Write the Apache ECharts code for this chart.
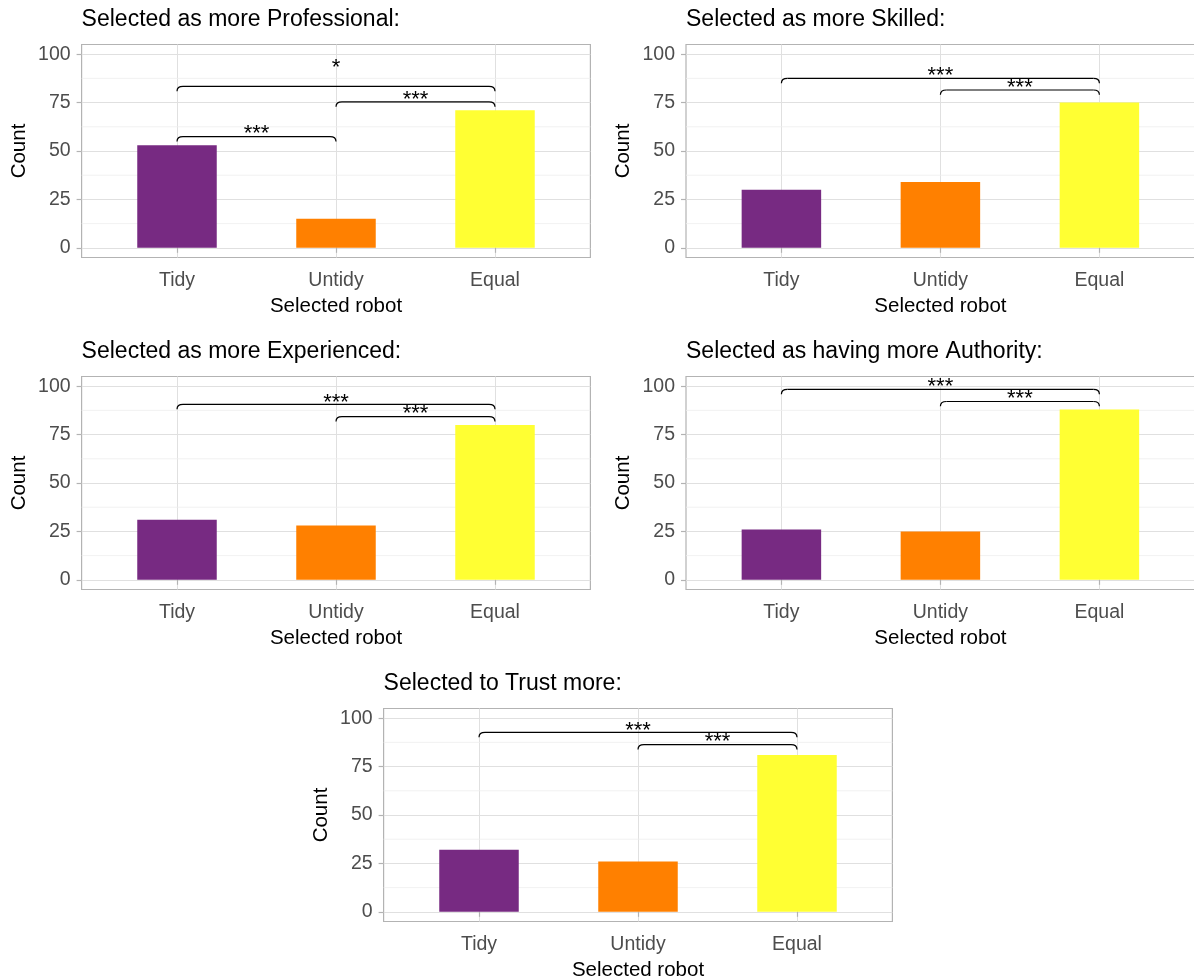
<!DOCTYPE html>
<html><head><meta charset="utf-8">
<script src="https://cdn.jsdelivr.net/npm/echarts@6/dist/echarts.min.js"></script>
<style>html,body{margin:0;padding:0;background:#fff}#chart{width:1194px;height:980px}</style>
</head><body><div id="chart"></div>
<script>
// ---- data ----
const categories = ['Tidy', 'Untidy', 'Equal'];
const panelTitles = [
  'Selected as more Professional:',
  'Selected as more Skilled:',
  'Selected as more Experienced:',
  'Selected as having more Authority:',
  'Selected to Trust more:'
];
const professional = [53, 15, 71];
const skilled = [30, 34, 75];
const experienced = [31, 28, 80];
const authority = [26, 25, 88];
const trust = [32, 26, 81];
const yTickValues = [0, 25, 50, 75, 100];
const yMinorValues = [12.5, 37.5, 62.5, 87.5];
// significance brackets: [fromCategory, toCategory, bracketY, labelY, label]
const professionalSig = [[0, 1, 57.4, 60.7, '***'], [1, 2, 75.4, 78.3, '***'], [0, 2, 83.4, 94.9, '*']];
const skilledSig = [[0, 2, 87.5, 90.6, '***'], [1, 2, 81.5, 84.6, '***']];
const experiencedSig = [[0, 2, 90.6, 93.3, '***'], [1, 2, 84.3, 87.7, '***']];
const authoritySig = [[0, 2, 98.3, 101.5, '***'], [1, 2, 92.1, 95.6, '***']];
const trustSig = [[0, 2, 92.7, 95.7, '***'], [1, 2, 86.3, 89.6, '***']];
const tipLength = 2.5;

// ---- styles / layout ----
const barColors = ['#772a82', '#ff8000', '#ffff33'];
const FONT = 'Liberation Sans, Arial, sans-serif';
const PW = 508.8, PH = 213;
const panels = [
  {title: panelTitles[0], values: professional, sig: professionalSig, left: 81.6, top: 44.5},
  {title: panelTitles[1], values: skilled, sig: skilledSig, left: 686, top: 44.5},
  {title: panelTitles[2], values: experienced, sig: experiencedSig, left: 81.6, top: 376.5},
  {title: panelTitles[3], values: authority, sig: authoritySig, left: 686, top: 376.5},
  {title: panelTitles[4], values: trust, sig: trustSig, left: 383.6, top: 708.5}
];

const option = {
  animation: false,
  backgroundColor: '#ffffff',
  title: panels.map(p => ({
    text: p.title, left: p.left, top: p.top - 36.5, padding: 0,
    textStyle: {fontSize: 23, fontWeight: 'normal', color: '#000', fontFamily: FONT}
  })),
  grid: panels.map(p => ({
    left: p.left, top: p.top, width: PW, height: PH,
    show: true, borderColor: '#b3b3b3', borderWidth: 1.2, backgroundColor: 'transparent',
    containLabel: false, outerBoundsMode: 'none'
  })),
  xAxis: panels.map((p, i) => ({
    gridIndex: i, type: 'value', min: 0.4, max: 3.6,
    axisLine: {show: false},
    axisTick: {show: true, length: 5, customValues: [1, 2, 3], lineStyle: {color: '#b3b3b3', width: 1.2}},
    axisLabel: {customValues: [1, 2, 3], formatter: v => categories[Math.round(v) - 1] || '',
      fontSize: 19.5, color: '#4d4d4d', margin: 13, fontFamily: FONT},
    splitLine: {show: true, lineStyle: {color: '#e0e0e0', width: 1}},
    name: 'Selected robot', nameLocation: 'middle', nameGap: 38, nameMoveOverlap: false,
    nameTextStyle: {fontSize: 20.5, color: '#000', fontFamily: FONT}
  })),
  yAxis: panels.map((p, i) => ({
    gridIndex: i, type: 'value', min: -5, max: 105,
    axisLine: {show: false},
    axisTick: {show: true, length: 5, customValues: yTickValues, lineStyle: {color: '#b3b3b3', width: 1.2}},
    axisLabel: {customValues: yTickValues, fontSize: 19.5, color: '#4d4d4d', margin: 11, fontFamily: FONT},
    splitLine: {show: true, lineStyle: {color: '#e0e0e0', width: 1}},
    name: 'Count', nameLocation: 'middle', nameGap: 52, nameRotate: 90,
    nameTextStyle: {fontSize: 20.5, color: '#000', fontFamily: FONT}
  })),
  series: []
};

panels.forEach((p, i) => {
  // minor horizontal gridlines
  option.series.push({
    type: 'custom', xAxisIndex: i, yAxisIndex: i, z: 1, silent: true,
    data: yMinorValues.map(v => [0.4, v]),
    renderItem: (params, api) => {
      const a = api.coord([0.4, api.value(1)]);
      const b = api.coord([3.6, api.value(1)]);
      return {type: 'line', shape: {x1: a[0], y1: a[1], x2: b[0], y2: b[1]},
        style: {stroke: '#ededed', lineWidth: 0.8}};
    }
  });
  // bars
  option.series.push({
    type: 'custom', xAxisIndex: i, yAxisIndex: i, z: 2,
    data: p.values.map((v, k) => [k + 1, v]),
    renderItem: (params, api) => {
      const base = api.coord([api.value(0), 0]);
      const top = api.coord([api.value(0), api.value(1)]);
      const w = api.size([0.5, 0])[0];
      return {type: 'rect', shape: {x: base[0] - w / 2, y: top[1], width: w, height: base[1] - top[1]},
        style: {fill: barColors[params.dataIndex]}};
    }
  });
  // significance brackets
  option.series.push({
    type: 'custom', xAxisIndex: i, yAxisIndex: i, z: 3,
    data: p.sig.map(s => [s[0] + 1, s[2], s[1] + 1, s[3]]),
    renderItem: (params, api) => {
      const x1 = api.value(0), y = api.value(1), x2 = api.value(2), ly = api.value(3);
      const a = api.coord([x1, y]);
      const b = api.coord([x2, y]);
      const ta = api.coord([x1, y - tipLength]);
      const r = 6;
      const st = {stroke: '#000', lineWidth: 1.2, fill: null};
      const lab = api.coord([(x1 + x2) / 2, ly]);
      return {type: 'group', children: [
        {type: 'bezierCurve', shape: {x1: ta[0], y1: ta[1], cpx1: a[0], cpy1: a[1], x2: a[0] + r, y2: a[1]}, style: st},
        {type: 'line', shape: {x1: a[0] + r, y1: a[1], x2: b[0] - r, y2: b[1]}, style: st},
        {type: 'bezierCurve', shape: {x1: b[0] - r, y1: b[1], cpx1: b[0], cpy1: b[1], x2: b[0], y2: ta[1]}, style: st},
        {type: 'text', x: lab[0], y: lab[1] + 4,
          style: {text: p.sig[params.dataIndex][4], fontSize: 22, fill: '#000', align: 'center',
            verticalAlign: 'middle', fontFamily: FONT}}
      ]};
    }
  });
});

const chart = echarts.init(document.getElementById('chart'), null, {renderer: 'canvas'});
chart.setOption(option);
</script>
</body></html>
